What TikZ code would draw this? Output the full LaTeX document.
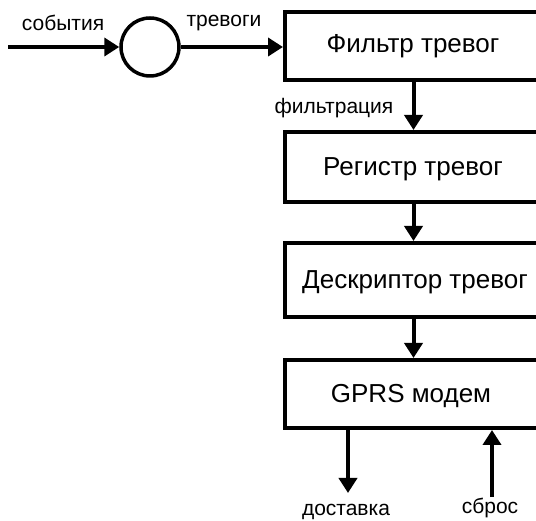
\documentclass[tikz,border=0pt]{standalone}
\usepackage{fontspec}
\setmainfont{Liberation Sans}
\usetikzlibrary{arrows.meta}
\begin{document}
\begin{tikzpicture}[x=1pt,y=-1pt,
  blk/.style={draw=black, line width=4pt, minimum width=257pt, inner sep=0pt, anchor=center},
  btxt/.style={font=\fontsize{26}{28}\selectfont, inner sep=0pt},
  lbl/.style={font=\fontsize{21}{23}\selectfont, inner sep=0pt},
  arr/.style={line width=4pt, -{Triangle[length=15pt,width=18pt]}}]
\useasboundingbox (0,0) rectangle (536,521);
\begin{scope}
\clip (0,0) rectangle (536,521);
\node[blk, minimum height=68pt] (b1) at (413.5,46) {};
\node[blk, minimum height=70pt] (b2) at (413.5,167) {};
\node[blk, minimum height=74pt] (b3) at (413.5,280) {};
\node[blk, minimum height=68pt] (b4) at (413.5,394) {};
\end{scope}
\node[btxt] (t1) at (413,46) {Фильтр тревог};
\node[btxt] (t2) at (413,169) {Регистр тревог};
\node[btxt] (t3) at (415,282) {Дескриптор тревог};
\node[btxt] (t4) at (411,396) {GPRS модем};
\node[draw=black, circle, line width=3.5pt, minimum size=58pt, inner sep=0pt] (c) at (150,47) {};
\coordinate (in) at (8,47);
\draw[arr] (in) -- (c.west);
\draw[arr] (c.east) -- (b1.west |- c.east);
\draw[arr] (b1.south) -- (b2.north);
\draw[arr] (b2.south) -- (b3.north);
\draw[arr] (b3.south) -- (b4.north);
\coordinate (dout) at (348,493);
\coordinate (rin) at (492,497);
\draw[arr] (b4.south -| dout) -- (dout);
\draw[arr] (rin) -- (b4.south -| rin);
\node[lbl] (l1) at (63,23) {события};
\node[lbl] (l2) at (224,23) {тревоги};
\node[lbl] (l3) at (334,108) {фильтрация};
\node[lbl] (l4) at (346,512) {доставка};
\node[lbl] (l5) at (490,508) {сброс};
\end{tikzpicture}
\end{document}
